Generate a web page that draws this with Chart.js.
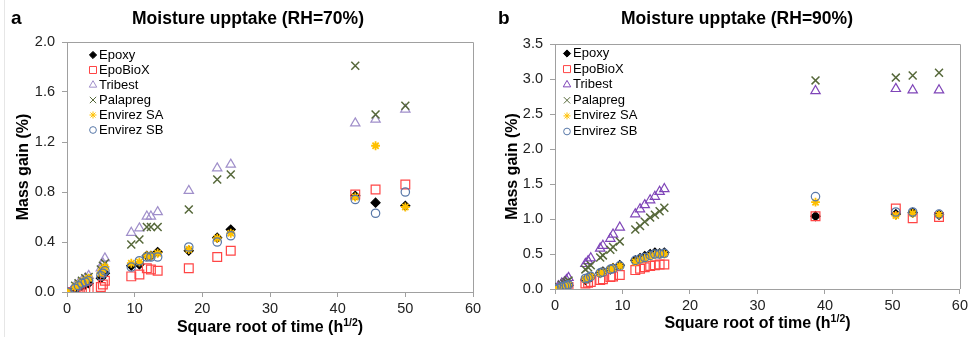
<!DOCTYPE html>
<html>
<head>
<meta charset="utf-8">
<script src="https://cdn.jsdelivr.net/npm/chart.js@4.4.0/dist/chart.umd.min.js"></script>
<style>
body { margin: 0; background: #fff; }
#wrap { position: relative; width: 971px; height: 337px; }
.panel { position: absolute; top: 0; }
#edge { position: absolute; left: 4px; top: 0; width: 1px; height: 337px; background: #e6e6e6; }
</style>
</head>
<body>
<div id="wrap">
  <div id="edge"></div>
  <div class="panel" style="left:0"><canvas id="chartA" width="486" height="337" style="width:486px;height:337px"></canvas></div>
  <div class="panel" style="left:486px"><canvas id="chartB" width="485" height="337" style="width:485px;height:337px"></canvas></div>
</div>
<script>
// series names (legend order)
var seriesNames = ['Epoxy', 'EpoBioX', 'Tribest', 'Palapreg', 'Envirez SA', 'Envirez SB'];

// panel a: RH = 70%
var timeA      = [0, 1.2, 1.7, 2.2, 2.7, 3.2, 5.0, 5.3, 5.6, 9.5, 10.7, 11.8, 12.4, 13.4, 18.0, 22.2, 24.2, 42.6, 45.6, 50.0];
var epoxyA     = [0, 0.03, 0.04, 0.05, 0.06, 0.07, 0.11, 0.13, 0.15, 0.21, 0.22, 0.29, 0.29, 0.32, 0.33, 0.435, 0.50, 0.77, 0.715, 0.69];
var epobioxA   = [0, 0.01, 0.01, 0.02, 0.02, 0.03, 0.04, 0.06, 0.09, 0.125, 0.14, 0.19, 0.18, 0.17, 0.19, 0.28, 0.33, 0.78, 0.82, 0.86];
var tribestA   = [0, 0.05, 0.07, 0.09, 0.11, 0.13, 0.19, 0.23, 0.27, 0.475, 0.51, 0.605, 0.605, 0.64, 0.81, 0.99, 1.02, 1.35, 1.38, 1.46];
var palapregA  = [0, 0.05, 0.07, 0.09, 0.11, 0.12, 0.18, 0.21, 0.23, 0.38, 0.42, 0.52, 0.52, 0.52, 0.66, 0.90, 0.94, 1.81, 1.42, 1.49];
var envirezSaA = [0, 0.04, 0.06, 0.08, 0.09, 0.11, 0.15, 0.18, 0.20, 0.23, 0.24, 0.29, 0.29, 0.31, 0.34, 0.43, 0.47, 0.76, 1.17, 0.68];
var envirezSbA = [0, 0.03, 0.05, 0.07, 0.08, 0.09, 0.13, 0.15, 0.17, 0.20, 0.25, 0.28, 0.28, 0.28, 0.36, 0.40, 0.45, 0.74, 0.63, 0.80];

// panel b: RH = 90%
var timeB      = [0, 0.5, 1.0, 1.4, 1.7, 2.0, 4.5, 4.9, 5.3, 6.7, 7.1, 8.2, 8.6, 9.6, 11.9, 12.6, 13.3, 14.1, 14.8, 15.5, 16.2, 38.6, 50.5, 53.0, 56.9];
var epoxyB     = [0, 0.01, 0.02, 0.03, 0.04, 0.05, 0.13, 0.15, 0.17, 0.23, 0.25, 0.28, 0.30, 0.34, 0.41, 0.44, 0.47, 0.50, 0.52, 0.51, 0.52, 1.04, 1.07, 1.09, 1.06];
var epobioxB   = [0, 0.00, 0.01, 0.01, 0.02, 0.03, 0.08, 0.09, 0.10, 0.13, 0.14, 0.17, 0.18, 0.20, 0.27, 0.29, 0.31, 0.33, 0.34, 0.35, 0.35, 1.04, 1.15, 1.01, 1.03];
var tribestB   = [0, 0.04, 0.08, 0.10, 0.13, 0.16, 0.36, 0.40, 0.44, 0.58, 0.62, 0.72, 0.78, 0.88, 1.07, 1.14, 1.20, 1.27, 1.32, 1.39, 1.43, 2.83, 2.86, 2.84, 2.84];
var palapregB  = [0, 0.03, 0.06, 0.08, 0.10, 0.12, 0.28, 0.31, 0.34, 0.45, 0.48, 0.56, 0.60, 0.68, 0.85, 0.90, 0.96, 1.02, 1.06, 1.11, 1.16, 2.98, 3.02, 3.05, 3.09];
var envirezSaB = [0, 0.01, 0.03, 0.04, 0.05, 0.06, 0.14, 0.16, 0.18, 0.22, 0.24, 0.28, 0.30, 0.33, 0.39, 0.42, 0.44, 0.47, 0.49, 0.50, 0.50, 1.24, 1.05, 1.08, 1.06];
var envirezSbB = [0, 0.01, 0.03, 0.04, 0.05, 0.06, 0.15, 0.16, 0.18, 0.23, 0.24, 0.28, 0.29, 0.33, 0.41, 0.43, 0.45, 0.48, 0.50, 0.50, 0.51, 1.32, 1.10, 1.10, 1.07];

var yTicksA = { min: 0, max: 2.0, step: 0.4 };
var yTicksB = { min: 0, max: 3.5, step: 0.5 };

var FONT = 'Arial, "Liberation Sans", sans-serif';
var AXIS = '#a0a0a0';

// marker look per series
var markers = [
  { style: 'rectRot',  r: 4.5, bw: 1.2, color: '#000000', fill: '#000000' },
  { style: 'rect',     r: 6.2, bw: 1.2, color: '#ff4545', fill: 'rgba(0,0,0,0)' },
  { style: 'triangle', r: 5.4, bw: 1.2, color: '#a08fca', fill: 'rgba(0,0,0,0)' },
  { style: 'crossRot', r: 5.6, bw: 1.5, color: '#56683a', fill: 'rgba(0,0,0,0)' },
  { style: 'star',     r: 4.4, bw: 1.8, color: '#ffc000', fill: 'rgba(0,0,0,0)' },
  { style: 'circle',   r: 4.2, bw: 1.2, color: '#5878a8', fill: 'rgba(0,0,0,0)' }
];

function pairs(xs, ys) {
  return xs.map(function (x, i) { return { x: x, y: ys[i] }; });
}

function makeDatasets(xs, list, tribColor) {
  return list.map(function (ys, i) {
    var m = markers[i];
    var col = (i === 2 && tribColor) ? tribColor : m.color;
    return {
      label: seriesNames[i],
      data: pairs(xs, ys),
      showLine: false,
      pointStyle: m.style,
      pointRadius: m.r,
      pointBorderWidth: m.bw,
      pointBorderColor: col,
      pointBackgroundColor: m.fill,
      borderColor: col,
      backgroundColor: m.fill,
      order: 10 - i // later series drawn on top, like the original
    };
  });
}

var decor = {
  id: 'decor',
  beforeDatasetsDraw: function (chart) {
    var a = chart.chartArea, ctx = chart.ctx;
    ctx.save();
    ctx.strokeStyle = AXIS;
    ctx.lineWidth = 1;
    ctx.beginPath();
    ctx.moveTo(Math.round(a.left), Math.round(a.top) + 0.5);
    ctx.lineTo(Math.round(a.right) + 0.5, Math.round(a.top) + 0.5);
    ctx.lineTo(Math.round(a.right) + 0.5, Math.round(a.bottom));
    ctx.stroke();
    ctx.restore();
  },
  afterDraw: function (chart) {
    var o = chart.options.plugins.decor;
    var ctx = chart.ctx, a = chart.chartArea;
    ctx.save();
    ctx.fillStyle = '#000';
    ctx.textBaseline = 'middle';

    // panel letter
    ctx.font = 'bold 19px ' + FONT;
    ctx.textAlign = 'left';
    ctx.fillText(o.letter, o.letterX, 19);

    // title
    ctx.font = 'bold 17.5px ' + FONT;
    ctx.textAlign = 'center';
    ctx.fillText(o.title, o.titleX, 19);

    // x axis title with superscript
    var main = 'Square root of time (h', sup = '1/2', end = ')';
    ctx.font = 'bold 16px ' + FONT;
    var w1 = ctx.measureText(main).width, w3 = ctx.measureText(end).width;
    ctx.font = 'bold 10.5px ' + FONT;
    var w2 = ctx.measureText(sup).width;
    var cx = (a.left + a.right) / 2;
    var x0 = cx - (w1 + w2 + w3) / 2;
    ctx.textAlign = 'left';
    ctx.font = 'bold 16px ' + FONT;
    ctx.fillText(main, x0, o.xTitleY);
    ctx.fillText(end, x0 + w1 + w2, o.xTitleY);
    ctx.font = 'bold 10.5px ' + FONT;
    ctx.fillText(sup, x0 + w1, o.xTitleY - 5);

    // y axis title
    ctx.save();
    ctx.translate(o.yTitleX, (a.top + a.bottom) / 2);
    ctx.rotate(-Math.PI / 2);
    ctx.font = 'bold 16px ' + FONT;
    ctx.textAlign = 'center';
    ctx.fillText('Mass gain (%)', 0, 0);
    ctx.restore();

    // legend
    chart.data.datasets.forEach(function (ds, i) {
      var y = o.legendY + i * o.legendGap;
      ctx.strokeStyle = ds.pointBorderColor;
      ctx.fillStyle = ds.pointBackgroundColor;
      ctx.lineWidth = 1;
      Chart.helpers.drawPoint(ctx, { pointStyle: ds.pointStyle, radius: ds.pointRadius * 0.8, borderWidth: 1, rotation: 0 }, o.legendX, y);
      ctx.fillStyle = '#000';
      ctx.font = '13px ' + FONT;
      ctx.textAlign = 'left';
      ctx.fillText(ds.label, o.legendX + 6, y);
    });
    ctx.restore();
  }
};

function makeChart(id, xs, series, yt, opts) {
  return new Chart(document.getElementById(id), {
    type: 'scatter',
    data: { datasets: makeDatasets(xs, series, opts.tribColor) },
    options: {
      responsive: false,
      animation: false,
      events: [],
      layout: { padding: opts.padding },
      plugins: {
        legend: { display: false },
        tooltip: { enabled: false },
        title: { display: false },
        decor: opts.decor
      },
      scales: {
        x: {
          type: 'linear', min: 0, max: 60,
          ticks: { stepSize: 10, color: '#222', font: { size: 14.5, family: FONT }, padding: 3, maxRotation: 0 },
          grid: { drawOnChartArea: false, tickLength: 5, color: AXIS },
          border: { color: AXIS },
          afterFit: function (s) { s.height = opts.xHeight; }
        },
        y: {
          type: 'linear', min: yt.min, max: yt.max,
          ticks: { stepSize: yt.step, color: '#222', font: { size: 14.5, family: FONT }, padding: 7,
                   callback: function (v) { return Number(v).toFixed(1); } },
          grid: { drawOnChartArea: false, tickLength: 5, color: AXIS },
          border: { color: AXIS },
          afterFit: function (s) { s.width = opts.yWidth; }
        }
      }
    },
    plugins: [decor]
  });
}

makeChart('chartA', timeA, [epoxyA, epobioxA, tribestA, palapregA, envirezSaA, envirezSbA], yTicksA, {
  padding: { left: 0, right: 13, top: 42, bottom: 0 },
  xHeight: 45, yWidth: 67,
  decor: { letter: 'a', letterX: 11, title: 'Moisture upptake (RH=70%)', titleX: 248,
           xTitleY: 328, yTitleX: 24, legendX: 93, legendY: 55, legendGap: 15 }
});

makeChart('chartB', timeB, [epoxyB, epobioxB, tribestB, palapregB, envirezSaB, envirezSbB], yTicksB, {
  padding: { left: 0, right: 11, top: 44, bottom: 0 },
  xHeight: 48, yWidth: 69, tribColor: '#7f45b8',
  decor: { letter: 'b', letterX: 12, title: 'Moisture upptake (RH=90%)', titleX: 251,
           xTitleY: 324, yTitleX: 27, legendX: 81, legendY: 53.5, legendGap: 15.6 }
});
</script>
</body>
</html>
